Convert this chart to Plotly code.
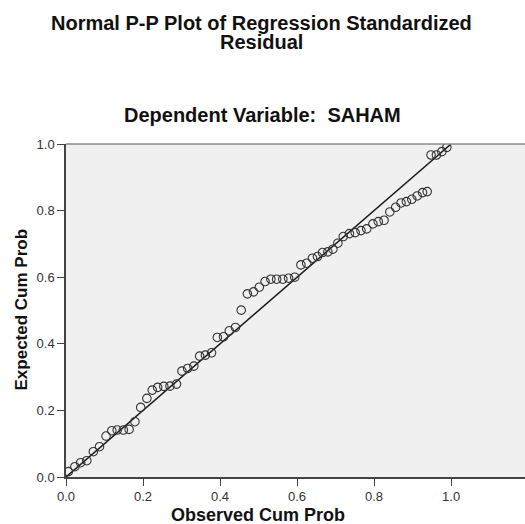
import plotly.graph_objects as go

observed = [0.006, 0.023, 0.038, 0.054, 0.071, 0.087, 0.104, 0.119, 0.133, 0.149,
            0.164, 0.179, 0.194, 0.210, 0.224, 0.238, 0.254, 0.270, 0.287, 0.301,
            0.316, 0.332, 0.347, 0.362, 0.378, 0.393, 0.409, 0.424, 0.440, 0.455,
            0.471, 0.487, 0.502, 0.517, 0.532, 0.547, 0.563, 0.578, 0.594, 0.610,
            0.625, 0.640, 0.653, 0.666, 0.680, 0.693, 0.706, 0.720, 0.736, 0.751,
            0.766, 0.781, 0.797, 0.811, 0.826, 0.841, 0.856, 0.870, 0.884, 0.898,
            0.912, 0.926, 0.938, 0.948, 0.962, 0.976, 0.989]
expected = [0.016, 0.031, 0.043, 0.049, 0.076, 0.091, 0.123, 0.139, 0.141, 0.141,
            0.143, 0.166, 0.209, 0.236, 0.261, 0.269, 0.272, 0.273, 0.279, 0.318,
            0.326, 0.333, 0.363, 0.366, 0.373, 0.419, 0.421, 0.439, 0.449, 0.501,
            0.550, 0.556, 0.570, 0.587, 0.594, 0.594, 0.594, 0.597, 0.600, 0.637,
            0.642, 0.657, 0.662, 0.674, 0.676, 0.684, 0.702, 0.722, 0.731, 0.734,
            0.740, 0.745, 0.760, 0.767, 0.771, 0.796, 0.810, 0.823, 0.827, 0.834,
            0.844, 0.854, 0.857, 0.967, 0.967, 0.977, 0.990]
ref_line_x = [0.0, 1.0]
ref_line_y = [0.0, 1.0]
tick_vals = [0.0, 0.2, 0.4, 0.6, 0.8, 1.0]
tick_text = ["0.0", "0.2", "0.4", "0.6", "0.8", "1.0"]

FONT = "Arial, Liberation Sans, sans-serif"

fig = go.Figure()
fig.add_trace(go.Scatter(x=ref_line_x, y=ref_line_y, mode="lines",
                         line=dict(color="#1a1a1a", width=1.5), hoverinfo="skip"))
fig.add_trace(go.Scatter(x=observed, y=expected, mode="markers",
                         marker=dict(symbol="circle-open", size=8.5,
                                     line=dict(color="#333333", width=1.1),
                                     color="#333333")))

W, H = 525, 524
L, R, T, B = 66, 0, 144, 47
pw, ph = W - L - R, H - T - B


def px(xp):
    return (xp - L) / pw


def py(yp):
    return (H - B - yp) / ph


fig.update_layout(
    width=W, height=H,
    margin=dict(l=L, r=R, t=T, b=B, pad=0),
    paper_bgcolor="white", plot_bgcolor="#F0F0F0",
    showlegend=False,
    font=dict(family=FONT, color="#222222"),
    xaxis=dict(range=[0, 1.192], tickvals=tick_vals, ticktext=tick_text,
               showgrid=False, zeroline=False, showline=True, linecolor="#444444",
               linewidth=1.5, ticks="outside", ticklen=7, tickcolor="#444444",
               tickwidth=1.2, tickfont=dict(size=13, color="#333333"), automargin=False),
    yaxis=dict(range=[0, 1.0], tickvals=tick_vals, ticktext=tick_text,
               showgrid=False, zeroline=False, showline=True, linecolor="#444444",
               linewidth=1.5, ticks="outside", ticklen=7, tickcolor="#444444",
               tickwidth=1.2, tickfont=dict(size=13, color="#333333"), automargin=False),
    shapes=[dict(type="line", xref="paper", yref="paper", x0=0, x1=1, y0=1, y1=1,
                 line=dict(color="#888888", width=1.5))],
    annotations=[
        dict(text="<b>Normal P-P Plot of Regression Standardized</b>", x=px(261), y=py(23),
             xref="paper", yref="paper", showarrow=False, xanchor="center", yanchor="middle",
             font=dict(size=20, color="#111111", family=FONT)),
        dict(text="<b>Residual</b>", x=px(261), y=py(42),
             xref="paper", yref="paper", showarrow=False, xanchor="center", yanchor="middle",
             font=dict(size=20, color="#111111", family=FONT)),
        dict(text="<b>Dependent Variable:  SAHAM</b>", x=px(262), y=py(115),
             xref="paper", yref="paper", showarrow=False, xanchor="center", yanchor="middle",
             font=dict(size=20, color="#111111", family=FONT)),
        dict(text="<b>Observed Cum Prob</b>", x=px(258), y=py(515),
             xref="paper", yref="paper", showarrow=False, xanchor="center", yanchor="middle",
             font=dict(size=18, color="#111111", family=FONT)),
        dict(text="<b>Expected Cum Prob</b>", x=px(20.5), y=py(310), textangle=-90,
             xref="paper", yref="paper", showarrow=False, xanchor="center", yanchor="middle",
             font=dict(size=17, color="#111111", family=FONT)),
    ],
)

fig.write_html("out.html", config={"displayModeBar": False},
               post_script="document.body.style.margin='0';")
